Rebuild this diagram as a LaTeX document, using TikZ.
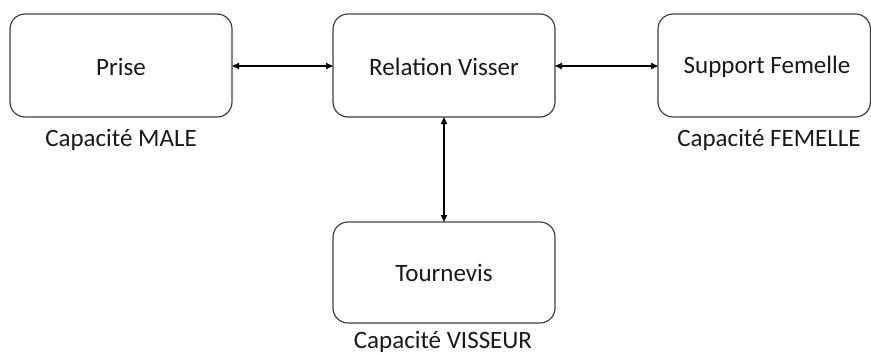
\documentclass[tikz,border=0pt]{standalone}
\usepackage{fontspec}
\setmainfont{Carlito}
\usetikzlibrary{arrows.meta}
\begin{document}
\begin{tikzpicture}[x=1pt,y=-1pt,
  box/.style={draw=black!75, line width=1.2pt, rounded corners=15pt, fill=white},
  lbl/.style={font=\fontsize{25}{30}\selectfont, text=black!90},
  caption/.style={lbl, anchor=base, inner sep=0pt},
  link/.style={line width=1.6pt, {Triangle[length=7pt,width=6pt]}-{Triangle[length=7pt,width=6pt]}}]
  \useasboundingbox (0,0) rectangle (871,354);
  % boxes
  \draw[box] (10,14) rectangle (232,117);
  \draw[box] (333,14) rectangle (555,117);
  \draw[box] (658,14) rectangle (870.4,117);
  \draw[box] (333,222) rectangle (555,323);
  % anchors on the box sides
  \coordinate (pR) at (232,66);
  \coordinate (rL) at (333,66);
  \coordinate (rR) at (555,66);
  \coordinate (sL) at (658,66);
  \coordinate (rB) at (444,117);
  \coordinate (tT) at (444,222);
  % box titles
  \node[lbl] (prise) at (121,67) {Prise};
  \node[lbl] (relation) at (444,67) {Relation Visser};
  \node[lbl] (support) at (767,67) {Support Femelle};
  \node[lbl] (tournevis) at (444,273) {Tournevis};
  % capacity captions, placed by their baselines
  \node[caption] (capmale) at (121,146) {Capacité MALE};
  \node[caption] (capfem) at (769,146) {Capacité FEMELLE};
  \node[caption] (capvis) at (443,348.5) {Capacité VISSEUR};
  % links
  \draw[link] (pR) -- (rL);
  \draw[link] (rR) -- (sL);
  \draw[link] (rB) -- (tT);
\end{tikzpicture}
\end{document}
